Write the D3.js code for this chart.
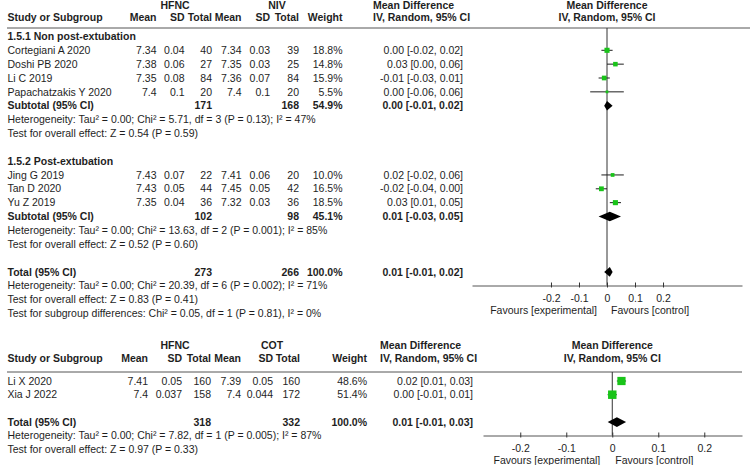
<!DOCTYPE html>
<html><head><meta charset="utf-8">
<script src="https://cdn.jsdelivr.net/npm/d3@7"></script>
<style>
body{margin:0;background:#fff}
svg text{font-family:"Liberation Sans",Arial,sans-serif;font-size:10.5px;fill:#1e1e1e}
.b{font-weight:bold}
</style></head><body>
<svg id="c" width="753" height="465"></svg>
<script>
// ===== Comparison 1: HFNC vs NIV =====
const nivGroupLabels = ["1.5.1 Non post-extubation", "1.5.2 Post-extubation"];
const nivStudies = ["Cortegiani A 2020", "Doshi PB 2020", "Li C 2019", "Papachatzakis Y 2020", "Jing G 2019", "Tan D 2020", "Yu Z 2019"];
const nivGroup = [0, 0, 0, 0, 1, 1, 1];
const nivHfncMean = ["7.34", "7.38", "7.35", "7.4", "7.43", "7.43", "7.35"];
const nivHfncSD = ["0.04", "0.06", "0.08", "0.1", "0.07", "0.05", "0.04"];
const nivHfncN = [40, 27, 84, 20, 22, 44, 36];
const nivCtrlMean = ["7.34", "7.35", "7.36", "7.4", "7.41", "7.45", "7.32"];
const nivCtrlSD = ["0.03", "0.03", "0.07", "0.1", "0.06", "0.05", "0.03"];
const nivCtrlN = [39, 25, 84, 20, 20, 42, 36];
const nivWeight = [18.8, 14.8, 15.9, 5.5, 10.0, 16.5, 18.5];
const nivMD = [0.00, 0.03, -0.01, 0.00, 0.02, -0.02, 0.03];
const nivLo = [-0.02, 0.00, -0.03, -0.06, -0.02, -0.04, 0.01];
const nivHi = [0.02, 0.06, 0.01, 0.06, 0.06, 0.00, 0.05];
const nivSubN1 = [171, 102];
const nivSubN2 = [168, 98];
const nivSubW = [54.9, 45.1];
const nivSubMD = [0.00, 0.01];
const nivSubLo = [-0.01, -0.03];
const nivSubHi = [0.02, 0.05];
const nivSubHet = ["Heterogeneity: Tau² = 0.00; Chi² = 5.71, df = 3 (P = 0.13); I² = 47%",
                   "Heterogeneity: Tau² = 0.00; Chi² = 13.63, df = 2 (P = 0.001); I² = 85%"];
const nivSubZ = ["Test for overall effect: Z = 0.54 (P = 0.59)", "Test for overall effect: Z = 0.52 (P = 0.60)"];
const nivTotal = {n1: 273, n2: 266, w: 100.0, md: 0.01, lo: -0.01, hi: 0.02};
const nivTotalNotes = ["Heterogeneity: Tau² = 0.00; Chi² = 20.39, df = 6 (P = 0.002); I² = 71%",
                       "Test for overall effect: Z = 0.83 (P = 0.41)",
                       "Test for subgroup differences: Chi² = 0.05, df = 1 (P = 0.81), I² = 0%"];

// ===== Comparison 2: HFNC vs COT =====
const cotStudies = ["Li X 2020", "Xia J 2022"];
const cotHfncMean = ["7.41", "7.4"];
const cotHfncSD = ["0.05", "0.037"];
const cotHfncN = [160, 158];
const cotCtrlMean = ["7.39", "7.4"];
const cotCtrlSD = ["0.05", "0.044"];
const cotCtrlN = [160, 172];
const cotWeight = [48.6, 51.4];
const cotMD = [0.02, 0.00];
const cotLo = [0.01, -0.01];
const cotHi = [0.03, 0.01];
const cotTotal = {n1: 318, n2: 332, w: 100.0, md: 0.01, lo: -0.01, hi: 0.03};
const cotTotalNotes = ["Heterogeneity: Tau² = 0.00; Chi² = 7.82, df = 1 (P = 0.005); I² = 87%",
                       "Test for overall effect: Z = 0.97 (P = 0.33)"];

// ===== Axis =====
const tickVals = [-0.2, -0.1, 0, 0.1, 0.2];
const tickLabels = ["-0.2", "-0.1", "0", "0.1", "0.2"];
const favLeft = "Favours [experimental]";
const favRight = "Favours [control]";

const svg = d3.select("#c");
const f2 = v => v.toFixed(2);
const ciText = (m, l, h) => `${f2(m)} [${f2(l)}, ${f2(h)}]`;
const GREEN = "#19c419";

function txt(g, x, y, s, anchor, bold) {
  return g.append("text").attr("x", x).attr("y", y).attr("dy", "0.35em")
    .attr("text-anchor", anchor || "start").attr("class", bold ? "b" : null).text(s);
}

function panel(L) {
  const g = svg.append("g");
  const x = d3.scaleLinear().domain(L.domain).range(L.range);
  txt(g, L.col.g1, L.yGroup, "HFNC", "middle", true);
  txt(g, L.col.g2, L.yGroup, L.ctrlName, "middle", true);
  txt(g, L.col.ciL, L.yGroup, "Mean Difference", "start", true);
  txt(g, x(0), L.yGroup, "Mean Difference", "middle", true);
  txt(g, 7.5, L.yHead, "Study or Subgroup", "start", true);
  [["Mean", "m1"], ["SD", "s1"], ["Total", "n1"], ["Mean", "m2"], ["SD", "s2"], ["Total", "n2"], ["Weight", "w"]]
    .forEach(([s, k]) => txt(g, L.col[k], L.yHead, s, "end", true));
  txt(g, L.col.ciL, L.yHead, "IV, Random, 95% CI", "start", true);
  txt(g, x(0), L.yHead, "IV, Random, 95% CI", "middle", true);
  g.append("line").attr("x1", 7).attr("x2", L.lineEnd).attr("y1", L.yLine).attr("y2", L.yLine)
    .attr("stroke", "#555").attr("stroke-width", 1);
  g.append("line").attr("x1", x(0)).attr("x2", x(0)).attr("y1", L.yLine).attr("y2", L.yAxis)
    .attr("stroke", "#333").attr("stroke-width", 1);
  const ax = g.append("g").attr("transform", `translate(0,${L.yAxis})`)
    .call(d3.axisBottom(x).tickValues(tickVals).tickFormat((d, i) => tickLabels[i])
      .tickSizeOuter(0).tickSizeInner(-3).tickPadding(8));
  ax.select(".domain").attr("stroke", "#555");
  ax.selectAll(".tick line").attr("y1", 2).attr("y2", -3).attr("stroke", "#333");
  ax.selectAll(".tick text").attr("font-family", null).attr("font-size", null).attr("fill", null).attr("y", 12.5).attr("dy", "0.35em");
  txt(g, x(0) + L.favL, L.yAxis + 25, favLeft, "end");
  txt(g, x(0) + L.favR, L.yAxis + 25, favRight, "start");
  return {g, x};
}

function studyRow(P, L, y, name, m1, s1, n1, m2, s2, n2, w, md, lo, hi) {
  const {g, x} = P;
  txt(g, 7.5, y, name);
  txt(g, L.col.m1, y, m1, "end");
  txt(g, L.col.s1, y, s1, "end");
  txt(g, L.col.n1, y, n1, "end");
  txt(g, L.col.m2, y, m2, "end");
  txt(g, L.col.s2, y, s2, "end");
  txt(g, L.col.n2, y, n2, "end");
  txt(g, L.col.w, y, w.toFixed(1) + "%", "end");
  txt(g, L.col.ci, y, ciText(md, lo, hi), "end");
  g.append("line").attr("x1", x(lo)).attr("x2", x(hi)).attr("y1", y).attr("y2", y)
    .attr("stroke", "#1e1e1e").attr("stroke-width", 1);
  const s = 1.18 * Math.sqrt(w);
  g.append("rect").attr("x", x(md) - s / 2).attr("y", y - s / 2).attr("width", s).attr("height", s)
    .attr("fill", GREEN);
}

function summaryRow(P, L, y, label, n1, n2, w, md, lo, hi) {
  const {g, x} = P;
  txt(g, 7.5, y, label, "start", true);
  txt(g, L.col.n1, y, n1, "end", true);
  txt(g, L.col.n2, y, n2, "end", true);
  txt(g, L.col.w, y, w.toFixed(1) + "%", "end", true);
  txt(g, L.col.ci, y, ciText(md, lo, hi), "end", true);
  const h = 4.8;
  g.append("path").attr("d", `M${x(lo)},${y}L${x(md)},${y - h}L${x(hi)},${y}L${x(md)},${y + h}Z`)
    .attr("fill", "#000");
}

// ---------- Panel 1 ----------
const L1 = {
  domain: [-0.482, 0.482], range: [472, 742], ctrlName: "NIV",
  col: {g1: 175, g2: 277, m1: 156.5, s1: 184.5, n1: 212, m2: 241.5, s2: 270, n2: 299, w: 342.5, ci: 463, ciL: 373},
  yGroup: 5, yHead: 17.5, yLine: 28, yAxis: 285.5, lineEnd: 750, favL: -10, favR: 4
};
const P1 = panel(L1);
const s1 = 13.85, y01 = 50.3;
const rowY1 = i => y01 + i * s1;
let r = -1;
[0, 1].forEach(gi => {
  txt(P1.g, 7.5, rowY1(r), nivGroupLabels[gi], "start", true);
  r++;
  nivStudies.forEach((name, i) => {
    if (nivGroup[i] !== gi) return;
    studyRow(P1, L1, rowY1(r), name, nivHfncMean[i], nivHfncSD[i], nivHfncN[i], nivCtrlMean[i], nivCtrlSD[i], nivCtrlN[i],
      nivWeight[i], nivMD[i], nivLo[i], nivHi[i]);
    r++;
  });
  summaryRow(P1, L1, rowY1(r), "Subtotal (95% CI)", nivSubN1[gi], nivSubN2[gi], nivSubW[gi], nivSubMD[gi], nivSubLo[gi], nivSubHi[gi]);
  r++;
  txt(P1.g, 7.5, rowY1(r), nivSubHet[gi]); r++;
  txt(P1.g, 7.5, rowY1(r), nivSubZ[gi]); r++;
  r += 1;
});
summaryRow(P1, L1, rowY1(r), "Total (95% CI)", nivTotal.n1, nivTotal.n2, nivTotal.w, nivTotal.md, nivTotal.lo, nivTotal.hi);
r++;
nivTotalNotes.forEach(t => { txt(P1.g, 7.5, rowY1(r), t); r++; });

// ---------- Panel 2 ----------
const L2 = {
  domain: [-0.281, 0.282], range: [483, 742], ctrlName: "COT",
  col: {g1: 175, g2: 272, m1: 148, s1: 182, n1: 211, m2: 241, s2: 273, n2: 300, w: 367, ci: 473, ciL: 380},
  yGroup: 345, yHead: 358, yLine: 372, yAxis: 435.5, lineEnd: 742, favL: -12, favR: 3
};
const P2 = panel(L2);
const s2 = 13.7, y02 = 381;
const rowY2 = i => y02 + i * s2;
cotStudies.forEach((name, i) => {
  studyRow(P2, L2, rowY2(i), name, cotHfncMean[i], cotHfncSD[i], cotHfncN[i], cotCtrlMean[i], cotCtrlSD[i], cotCtrlN[i],
    cotWeight[i], cotMD[i], cotLo[i], cotHi[i]);
});
summaryRow(P2, L2, rowY2(3), "Total (95% CI)", cotTotal.n1, cotTotal.n2, cotTotal.w, cotTotal.md, cotTotal.lo, cotTotal.hi);
cotTotalNotes.forEach((t, k) => txt(P2.g, 7.5, rowY2(4 + k), t));
</script>
</body></html>
